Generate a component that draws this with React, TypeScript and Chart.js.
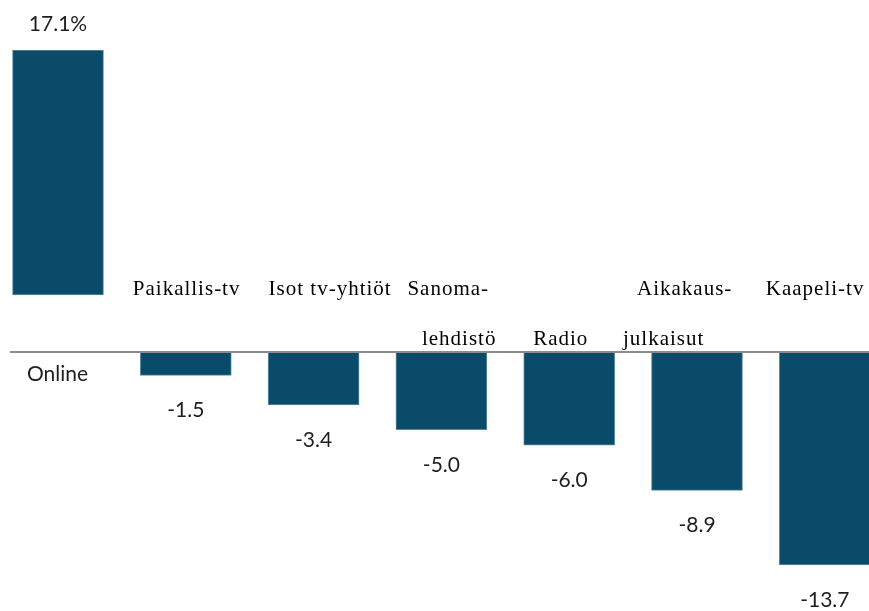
import React, { useEffect, useRef } from "react";
import { Chart, registerables } from "chart.js";

Chart.register(...registerables);

// ---- data ----
const categoryLines: string[][] = [
  ["Online"],
  ["Paikallis-tv"],
  ["Isot tv-yhtiöt"],
  ["Sanoma-", "lehdistö"],
  ["Radio"],
  ["Aikakaus-", "julkaisut"],
  ["Kaapeli-tv"],
];
const categories = categoryLines.map((l) => l.join(""));
const values = [17.1, -1.5, -3.4, -5.0, -6.0, -8.9, -13.7];
const valueLabels = ["17.1%", "-1.5", "-3.4", "-5.0", "-6.0", "-8.9", "-13.7"];
// In the reference, the Online bar is drawn lifted above the zero line.
const onlineBarRange = [3.67, 19.42];
const yMin = -16.66;
const yMax = 22.64;

// ---- layout (not data) ----
const BAR_CENTER0 = 58;
const BAR_STEP = 127.8;
const W = 869;
const H = 611;
const labelPlacement: { dx: number; dy: number; sans?: boolean }[][] = [
  [{ dx: -31, dy: 29, sans: true }],
  [{ dx: -53, dy: -57 }],
  [{ dx: -45, dy: -57 }],
  [{ dx: -34, dy: -57 }, { dx: -19.5, dy: -6.5 }],
  [{ dx: -36, dy: -6.5 }],
  [{ dx: -60, dy: -57 }, { dx: -74, dy: -6.5 }],
  [{ dx: -59, dy: -57 }],
];

const SANS = "21px Lato, 'Noto Sans', sans-serif";
const SERIF = "21px 'Liberation Serif', 'DejaVu Serif', serif";

const overlayPlugin = {
  id: "overlay",
  afterDatasetsDraw(chart: any) {
    const ctx = chart.ctx as CanvasRenderingContext2D;
    const xs = chart.scales.x;
    const ys = chart.scales.y;
    const zeroY = ys.getPixelForValue(0);
    ctx.save();
    // zero axis line
    ctx.strokeStyle = "#8c8c8c";
    ctx.lineWidth = 2;
    ctx.beginPath();
    ctx.moveTo(10, zeroY);
    ctx.lineTo(chart.width, zeroY);
    ctx.stroke();

    // category labels
    categoryLines.forEach((lines, i) => {
      const cx = xs.getPixelForValue(i);
      lines.forEach((text, j) => {
        const p = labelPlacement[i][j];
        ctx.font = p.sans ? SANS : SERIF;
        (ctx as any).letterSpacing = p.sans ? "0px" : "1px";
        ctx.fillStyle = p.sans ? "#1e1e1e" : "#000000";
        ctx.textAlign = "left";
        ctx.textBaseline = "alphabetic";
        ctx.fillText(text, cx + p.dx, zeroY + p.dy);
      });
    });

    // value labels
    (ctx as any).letterSpacing = "0px";
    ctx.font = SANS;
    ctx.fillStyle = "#1e1e1e";
    ctx.textAlign = "center";
    ctx.textBaseline = "alphabetic";
    const meta = chart.getDatasetMeta(0);
    meta.data.forEach((bar: any, i: number) => {
      const props = bar.getProps(["x", "y", "base"], true);
      const top = Math.min(props.y, props.base);
      const bottom = Math.max(props.y, props.base);
      if (values[i] >= 0) {
        ctx.fillText(valueLabels[i], props.x, top - 19);
      } else {
        ctx.fillText(valueLabels[i], props.x, bottom + 42);
      }
    });
    ctx.restore();
  },
};

export default function App() {
  const ref = useRef<HTMLCanvasElement | null>(null);
  useEffect(() => {
    if (!ref.current) return;
    const xMin = -BAR_CENTER0 / BAR_STEP;
    const xMax = xMin + W / BAR_STEP;
    const chart = new Chart(ref.current, {
      type: "bar",
      data: {
        labels: categories,
        datasets: [
          {
            data: categories.map((_, i) => ({
              x: i,
              y: i === 0 ? onlineBarRange : [0, values[i]],
            })) as any,
            backgroundColor: "#0a4b6a",
            borderColor: "#5f8ca4",
            borderWidth: 1,
            borderSkipped: false,
            barThickness: 91,
          },
        ],
      },
      options: {
        responsive: false,
        maintainAspectRatio: false,
        animation: false,
        layout: { padding: 0 },
        plugins: {
          legend: { display: false },
          tooltip: { enabled: false },
          title: { display: false },
        },
        scales: {
          x: { type: "linear", min: xMin, max: xMax, offset: false, display: false },
          y: { type: "linear", min: yMin, max: yMax, display: false },
        },
      },
      plugins: [overlayPlugin],
    });
    return () => chart.destroy();
  }, []);
  return (
    <canvas
      ref={ref}
      width={W}
      height={H}
      style={{ position: "absolute", left: 0, top: 0, width: W, height: H, display: "block" }}
    />
  );
}
